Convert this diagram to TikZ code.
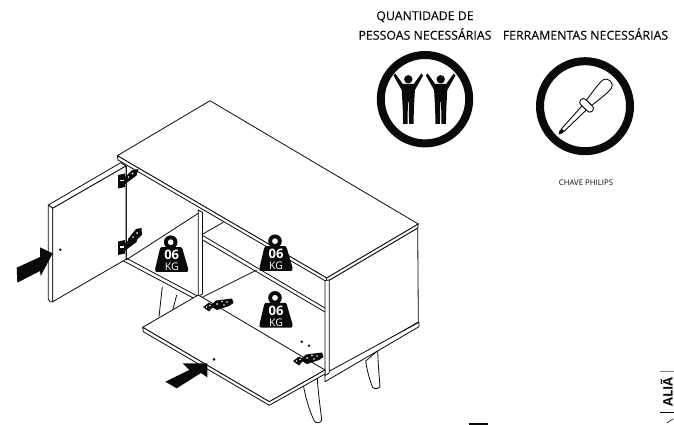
\documentclass[tikz,border=0pt]{standalone}
\usepackage{fontspec}
\setmainfont{Open Sans}
\newfontfamily\headfont[FakeBold=0.25]{Open Sans}
\usepackage{tikz}
\usetikzlibrary{positioning}
\definecolor{inkblack}{RGB}{10,10,10}

\begin{document}
\begin{tikzpicture}[
    x=1pt, y=-1pt,
    panel/.style={draw=inkblack, fill=white, line width=0.8pt, line join=round},
    heading/.style={font=\headfont\fontsize{12.35}{13}\selectfont, inner sep=0pt, text=inkblack},
    ring/.style={draw=inkblack, line width=8pt},
    weight/.pic={
        \fill[inkblack, even odd rule] (0,-0.5) circle (6.8) (0,-0.5) circle (3);
        \fill[inkblack] (-9,4.5) -- (10,4.5) .. controls (11,4.5) and (11.5,5.5) .. (12,7) -- (17.5,26)
            .. controls (18,28.5) and (17,29.2) .. (16,29.2) -- (-14,29.2)
            .. controls (-15,29.2) and (-16,28.5) .. (-15.5,26) -- (-11,7) .. controls (-10.5,5.5) and (-10,4.5) .. (-9,4.5) -- cycle;
        \node[text=white, inner sep=0pt, font=\fontsize{13}{13}\selectfont\bfseries, text height=9.5pt, text depth=0pt] at (1,12.5) {06};
        \node[text=white, inner sep=0pt, font=\fontsize{10.5}{11}\selectfont, text height=7.5pt, text depth=0pt] at (1,24) {KG};
    },
    person/.pic={
        \fill[inkblack] (0,-8.7) circle (4.2);
        \fill[inkblack] (-14.8,-12.5) -- (-13,-14.5) -- (-5.5,-4) -- (5.5,-4) -- (13,-14.5) -- (14.8,-12.5)
            -- (6.6,2) -- (5.6,20) -- (5.2,36) -- (0.8,36) -- (0.4,14) -- (-0.4,14) -- (-0.8,36) -- (-5.2,36) -- (-5.6,20) -- (-6.6,2) -- cycle;
    },
    doorhinge/.pic={
        \fill[inkblack] (-3.5,-6.5) -- (3.5,-8) -- (3.5,5.5) -- (-3.5,7) -- cycle;
        \fill[inkblack] (2,-3) -- (10,-11) -- (17,-12.5) -- (15,-6) -- (3,3) -- cycle;
        \fill[white] (-1.5,-2) rectangle (2.5,-0.5);
        \fill[white] (11,-8) circle (1) (7,-4.5) circle (0.8);
    },
    flathinge/.pic={
        \fill[inkblack] (-5,0) -- (1,-4.5) -- (6,-1.5) -- (1,4.5) -- cycle;
        \fill[inkblack] (2,-1) -- (8,-6.5) -- (24,-8.5) -- (25.5,-4) -- (21,-1) -- (9,3) -- cycle;
        \fill[white] (-1.5,0) circle (0.8) (2,-1.5) circle (0.8) (9,-3) circle (1) (14,-5.5) circle (0.9) (19,-5) circle (0.9) (16,-2) circle (0.8);
    }
]
\useasboundingbox (0,0) rectangle (674,425);

% legs behind the cabinet
\draw[panel, fill=none] (162.3,286.7) -- (159,316.7);
\draw[panel, fill=none] (176.7,295) -- (172.7,310);
\draw[panel] (303.3,385) .. controls (306,400) and (310,412) .. (314.3,421) .. controls (316,424) and (321,423) .. (321.7,420) .. controls (320,405) and (318,392) .. (317.3,378) -- cycle;
\draw[panel] (365.7,361) .. controls (367,370) and (369.5,380) .. (372.7,387.5) .. controls (374,389) and (379,389) .. (380,386.5) .. controls (379,375) and (378,362) .. (377.7,350.7) -- cycle;

% cabinet
\draw[panel] (326.7,281.7) -- (417.7,228) -- (418.3,322) -- (326.7,375) -- cycle;
\draw[panel] (325,373.5) -- (419,322.3) -- (419,326.7) -- (325,381.7) -- cycle;
\draw[panel] (210,100.7) -- (418.3,224) -- (326.7,278) -- (117.3,155.7) -- cycle;
\draw[panel] (117.3,155.7) -- (326.7,278) -- (418.3,224) -- (417.7,228) -- (326.7,281.7) -- (118,160) -- cycle;
\draw[panel, fill=none] (326.7,278) -- (326.7,281.7);
\draw[panel] (325,280.5) -- (329.3,280) -- (329.3,373) -- (325,375.5) -- cycle;
\draw[panel] (198.3,210) -- (202.5,212.5) -- (202.5,294) -- (198.3,296) -- cycle;
\draw[panel, fill=none] (126,166) -- (126,259.3);
\draw[panel, fill=none] (126,260) -- (198.3,213.3);
\draw[panel, fill=none] (121.7,260) -- (193.3,298);
\draw[panel, fill=none] (126,258) -- (198.3,296.5);
\draw[panel, fill=none] (202.5,234.3) -- (223.3,222.3);
\draw[panel, fill=none] (202.7,235.5) -- (325,308);
\draw[panel, fill=none] (202.7,240) -- (325,312);
\draw[panel, fill=none] (202.7,297) -- (256.7,270);

% left door
\draw[panel] (48.3,205) -- (120.7,162.7) -- (126,166) -- (52.7,208.3) -- cycle;
\draw[panel] (48.3,205) -- (52.7,208.3) -- (52.7,301.7) -- (50,301.7) -- (48.3,299) -- cycle;
\draw[panel] (52.7,208.3) -- (126,166) -- (126,259.3) -- (52.7,301.7) -- cycle;
\fill[inkblack] (60.3,249.7) circle (1.3);

% lower door
\draw[panel] (142.7,327.3) -- (198.3,295) -- (325,370) -- (269.3,401.7) -- cycle;
\draw[panel] (142.7,327.3) -- (269.3,401.7) -- (325,370) -- (325,374) -- (269.3,405.3) -- (143.3,331.7) -- cycle;
\fill[inkblack] (214,359.3) circle (1.5);
\fill[inkblack] (301.7,341.7) circle (1.4) (309,345.7) circle (1.3);

% hinges
\pic at (121.5,181.5) {doorhinge};
\pic at (121.5,248) {doorhinge};
\fill[inkblack] (128,239) -- (136,229) -- (141.5,228) -- (142,235) -- (128,247) -- cycle;
\fill[white] (137,233) circle (1) (133,237) circle (0.9);
\pic at (208,307) {flathinge};
\pic at (298,361) {flathinge};

% weights
\pic at (170.7,242.7) {weight};
\pic at (275,241.7) {weight};
\pic at (275,298.3) {weight};

% arrows
\fill[inkblack] (52.7,253.3) -- (40,247.3) -- (40,257) -- (16.7,267.7) -- (17.3,282.7) -- (40,271) -- (40.7,276) -- cycle;
\fill[inkblack] (182.7,363.3) -- (207.3,363.3) -- (207.3,377.3) -- (201,373) -- (176.7,388.3) -- (165.3,381.7) -- (189.3,370) -- cycle;

% people icon
\node[heading] (qty1) at (425,16.7) {QUANTIDADE DE};
\node[heading] (qty2) at (425,34) {PESSOAS NECESSÁRIAS};
\draw[ring] (425,99.2) circle (44.2);
\pic at (408.3,88) {person};
\pic at (440.7,88) {person};

% tool icon
\node[heading] (tools) at (585.5,34) {FERRAMENTAS NECESSÁRIAS};
\draw[ring] (585,106.2) circle (45);
\begin{scope}[shift={(558.5,134.5)}, rotate=46, draw=inkblack, line width=0.9pt]
    \fill[inkblack] (0,0) -- (3.5,-2) -- (7,-1.7) -- (7,1.7) -- (3.5,2) -- cycle;
    \draw[fill=white] (6,-1.8) -- (37,-3) -- (37,3) -- (6,1.8) -- cycle;
    \draw[fill=white] (44,-3.8) .. controls (52,-4.5) and (60,-6.5) .. (70,-6)
        .. controls (76,-5) and (76,5) .. (70,6) .. controls (60,6.5) and (52,4.5) .. (44,3.8) -- cycle;
    \draw[fill=white, rounded corners=3pt] (37,-8) rectangle (44,8);
\end{scope}
\node[font=\fontsize{7.8}{8}\selectfont, inner sep=0pt, text=inkblack] (chave) at (586,183) {CHAVE PHILIPS};

% page edge
\fill[inkblack] (469,423) rectangle (488,425);
\node[rotate=90, inner sep=0pt, font=\fontsize{13}{14}\selectfont\bfseries, text=inkblack, anchor=south west] (edgetext) at (672.8,407) {ALIÃ};
\draw[gray, line width=0.7pt] (659.5,371.7) -- (674,371.7);
\draw[inkblack, line width=0.7pt] (659.5,412.7) -- (674,412.7);
\draw[inkblack, line width=0.6pt] (666.7,423) -- (673,419);
\end{tikzpicture}
\end{document}
